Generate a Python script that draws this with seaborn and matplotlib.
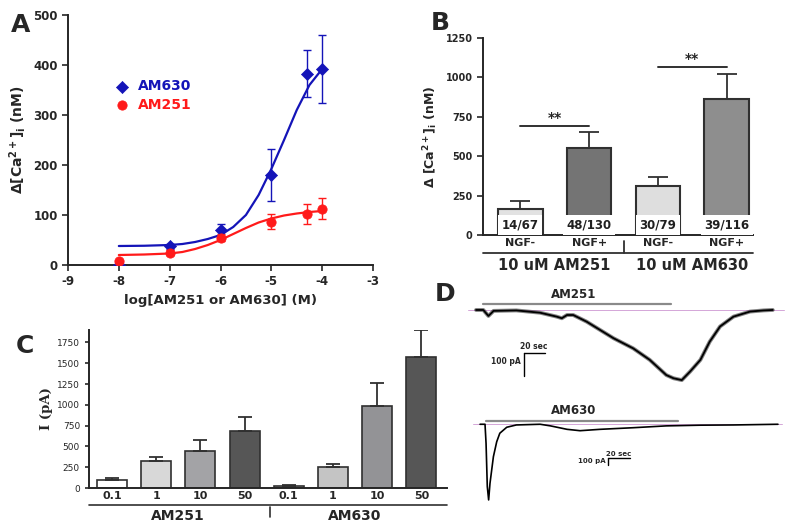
import numpy as np
import matplotlib
matplotlib.use("Agg")
import matplotlib.pyplot as plt
import seaborn as sns

sns.set_style("ticks")
plt.rcParams['font.family'] = ['DejaVu Sans']
plt.rcParams['font.weight'] = 'bold'
plt.rcParams['mathtext.fontset'] = 'dejavusans'
plt.rcParams['mathtext.default'] = 'bf'
plt.rcParams['axes.unicode_minus'] = False
plt.rcParams['axes.linewidth'] = 1.4
plt.rcParams['xtick.major.width'] = 1.2
plt.rcParams['ytick.major.width'] = 1.2

# ---- Panel A: dose response ----
log_conc = [-8, -7, -6, -5, -4.3, -4]
am630_mean = [0, 38, 70, 180, 383, 393]
am630_err = [0, 5, 13, 52, 47, 68]
am251_mean = [8, 25, 55, 87, 102, 113]
am251_err = [0, 5, 7, 15, 20, 21]
fit_x = [-8, -7.5, -7, -6.75, -6.5, -6.25, -6, -5.75, -5.5, -5.25, -5, -4.75, -4.5, -4.25, -4]
fit_630 = [38, 38.5, 40, 42, 46, 52, 60, 76, 100, 140, 192, 250, 310, 360, 392]
fit_251 = [20, 21, 23, 26, 32, 40, 50, 62, 74, 85, 93, 99, 103, 106, 108]

# ---- Panel B: NGF- vs NGF+ ----
b_groups = ["AM251 NGF-", "AM251 NGF+", "AM630 NGF-", "AM630 NGF+"]
b_ticklabels = ["NGF-", "NGF+", "NGF-", "NGF+"]
b_mean = [165, 550, 310, 865]
b_err = [50, 105, 60, 155]
b_counts = ["14/67", "48/130", "30/79", "39/116"]
b_colors = ['#e2e2e2', '#747474', '#dedede', '#8e8e8e']

# ---- Panel C: currents ----
c_groups = ["AM251 0.1", "AM251 1", "AM251 10", "AM251 50",
            "AM630 0.1", "AM630 1", "AM630 10", "AM630 50"]
c_doses = ["0.1", "1", "10", "50", "0.1", "1", "10", "50"]
c_mean = [96, 324, 444, 687, 24, 255, 991, 1570]
c_err = [28, 48, 132, 168, 12, 33, 272, 335]
c_colors = ['#ffffff', '#d8d8d8', '#a3a3a7', '#565656',
            '#b8b8b8', '#c4c4c4', '#939397', '#565656']

# ---- Panel D: current traces (sec, pA) ----
t_am251 = [0, 7, 12, 17, 39, 62, 78, 83, 88, 94, 107, 120, 133, 152, 168, 184,
           191, 199, 207, 217, 226, 236, 249, 265, 278, 287]
i_am251 = [0, 0, -26, -4, -2, -12, -29, -36, -22, -22, -51, -87, -123, -167, -217, -283,
           -297, -305, -268, -217, -138, -72, -29, -7, -2, 0]
t_am630 = [3.9, 8.7, 9.7, 10.9, 12.2, 13.5, 16.8, 20, 23, 29.7, 39, 62, 72, 88,
           100.6, 120, 152, 184, 217, 249, 292]
i_am630 = [0, 0, -83, -271, -329, -257, -141, -76, -39, -13, -3, 0, -7, -22,
           -28, -22, -15, -7, -4, -3, 0]
am630_offset = -497

W, H = 800, 529
fig = plt.figure(figsize=(8, 5.29), dpi=100)


def box(left, right, top, bottom):
    return [left / W, 1 - bottom / H, (right - left) / W, (bottom - top) / H]


blue = '#1414b8'
red = '#ff1a1a'

# Panel A
ax_a = fig.add_axes(box(68, 373, 15, 265))
sns.lineplot(x=fit_x, y=fit_630, color=blue, lw=1.6, ax=ax_a)
sns.lineplot(x=fit_x, y=fit_251, color=red, lw=1.6, ax=ax_a)
ax_a.errorbar(log_conc, am630_mean, yerr=am630_err, fmt='none', ecolor=blue,
              elinewidth=1, capsize=3, capthick=1)
ax_a.errorbar(log_conc, am251_mean, yerr=am251_err, fmt='none', ecolor=red,
              elinewidth=1, capsize=3, capthick=1)
sns.scatterplot(x=log_conc, y=am630_mean, marker='D', s=38, color=blue,
                edgecolor=blue, ax=ax_a, label='AM630', zorder=5)
sns.scatterplot(x=log_conc, y=am251_mean, marker='o', s=45, color=red,
                edgecolor=red, ax=ax_a, label='AM251', zorder=5)
ax_a.set_xlim(-9, -3)
ax_a.set_ylim(0, 500)
ax_a.set_xticks(range(-9, -2))
ax_a.set_yticks(range(0, 501, 100))
ax_a.tick_params(labelsize=8.5, length=4)
ax_a.set_xlabel("log[AM251 or AM630] (M)", fontsize=9.5, fontweight='bold')
ax_a.set_ylabel(r"$\Delta$[Ca$^{2+}$]$_i$ (nM)", fontsize=10, fontweight='bold')
leg = ax_a.legend(loc='upper left', bbox_to_anchor=(0.11, 0.77), frameon=False,
                  prop={'weight': 'bold', 'size': 10}, handletextpad=0.1,
                  labelspacing=0.3, borderpad=0)
for txt, col in zip(leg.get_texts(), [blue, red]):
    txt.set_color(col)
sns.despine(ax=ax_a)
fig.text(11 / W, 1 - 25 / H, "A", fontsize=18, fontweight='bold', ha='left', va='center')

# Panel B
ax_b = fig.add_axes(box(483, 753, 38, 235))
sns.barplot(x=b_groups, y=b_mean, hue=b_groups, palette=b_colors, legend=False,
            order=b_groups, width=0.65, edgecolor='#303030', linewidth=1.5,
            errorbar=None, ax=ax_b)
ax_b.errorbar(range(4), b_mean, yerr=[np.zeros(4), b_err], fmt='none',
              ecolor='#303030', elinewidth=1.3, capsize=7, capthick=1.3)
for i, lab in enumerate(b_counts):
    ax_b.text(i, 62, lab, ha='center', va='center', fontsize=8.5, fontweight='bold',
              color='#202020',
              bbox=dict(facecolor='white', edgecolor='none', pad=2.5))
ax_b.plot([0, 1], [692, 692], color='#303030', lw=1.4)
ax_b.text(0.5, 700, "**", ha='center', va='bottom', fontsize=10, fontweight='bold')
ax_b.plot([2, 3], [1065, 1065], color='#303030', lw=1.4)
ax_b.text(2.5, 1073, "**", ha='center', va='bottom', fontsize=10, fontweight='bold')
ax_b.set_xlim(-0.54, 3.38)
ax_b.set_ylim(0, 1250)
ax_b.set_yticks(range(0, 1251, 250))
ax_b.set_xticks(range(4))
ax_b.set_xticklabels(b_ticklabels, fontsize=8, fontweight='bold')
ax_b.tick_params(axis='x', length=0, pad=2)
ax_b.tick_params(axis='y', labelsize=7, length=4)
ax_b.set_xlabel("")
ax_b.set_ylabel(r"$\Delta$ [Ca$^{2+}$]$_i$ (nM)", fontsize=9, fontweight='bold')
ax_b.plot([0, 1], [-0.092, -0.092], transform=ax_b.transAxes, color='#303030',
          lw=1.3, clip_on=False)
ax_b.plot([1.5, 1.5], [-0.03, -0.09], transform=ax_b.get_xaxis_transform(),
          color='#303030', lw=1.3, clip_on=False)
ax_b.text(0.5, -0.155, "10 uM AM251", transform=ax_b.get_xaxis_transform(),
          ha='center', va='center', fontsize=10.5, fontweight='bold')
ax_b.text(2.5, -0.155, "10 uM AM630", transform=ax_b.get_xaxis_transform(),
          ha='center', va='center', fontsize=10.5, fontweight='bold')
sns.despine(ax=ax_b)
fig.text(431 / W, 1 - 23 / H, "B", fontsize=18, fontweight='bold', ha='left', va='center')

# Panel C
ax_c = fig.add_axes(box(89, 447, 330, 488))
sns.barplot(x=c_groups, y=c_mean, hue=c_groups, palette=c_colors, legend=False,
            order=c_groups, width=0.68, edgecolor='#303030', linewidth=1.2,
            errorbar=None, ax=ax_c)
ax_c.errorbar(range(8), c_mean, yerr=[np.zeros(8), c_err], fmt='none',
              ecolor='#303030', elinewidth=1.3, capsize=5, capthick=1.3)
ax_c.set_xlim(-0.52, 7.58)
ax_c.set_ylim(0, 1900)
ax_c.set_yticks(range(0, 1751, 250))
ax_c.set_xticks(range(8))
ax_c.set_xticklabels(c_doses, fontsize=8, fontweight='bold')
ax_c.tick_params(axis='x', length=0, pad=2)
ax_c.tick_params(axis='y', labelsize=6.5, length=3)
for t in ax_c.get_yticklabels():
    t.set_fontweight('normal')
ax_c.set_xlabel("")
ax_c.set_ylabel("I (pA)", fontsize=9.5, fontweight='bold', family='DejaVu Serif',
                labelpad=3)
ax_c.plot([0, 1], [-0.108, -0.108], transform=ax_c.transAxes, color='#303030',
          lw=1.2, clip_on=False)
ax_c.plot([3.57, 3.57], [-0.12, -0.185], transform=ax_c.get_xaxis_transform(),
          color='#303030', lw=1.2, clip_on=False)
ax_c.text(1.5, -0.18, "AM251", transform=ax_c.get_xaxis_transform(),
          ha='center', va='center', fontsize=10, fontweight='bold')
ax_c.text(5.5, -0.18, "AM630", transform=ax_c.get_xaxis_transform(),
          ha='center', va='center', fontsize=10, fontweight='bold')
sns.despine(ax=ax_c)
fig.text(16 / W, 1 - 346 / H, "C", fontsize=18, fontweight='bold', ha='left', va='center')

# Panel D
ax_d = fig.add_axes(box(460, 795, 275, 525))
ax_d.set_xlim(-15.5, 308.5)
ax_d.set_ylim(-935, 152)
ax_d.axis('off')
pink = '#d4a6d8'
ax_d.plot([-8, 298], [0, 0], color=pink, lw=0.7)
ax_d.plot([-3, 296], [am630_offset, am630_offset], color=pink, lw=0.7)
sns.lineplot(x=t_am251, y=i_am251, color='#333333', lw=2.8, alpha=0.6, ax=ax_d)
sns.lineplot(x=t_am251, y=i_am251, color='black', lw=1.3, ax=ax_d)
trace2 = [v + am630_offset for v in i_am630]
sns.lineplot(x=t_am630, y=trace2, color='black', lw=1.2, ax=ax_d)
# application bars
ax_d.plot([7, 189], [25, 25], color='#8a8a8a', lw=1.6)
ax_d.text(94, 40, "AM251", ha='center', va='bottom', fontsize=8.5, fontweight='bold')
ax_d.plot([10, 195], [am630_offset + 16, am630_offset + 16], color='#8a8a8a', lw=1.6)
ax_d.text(94, am630_offset + 31, "AM630", ha='center', va='bottom', fontsize=8.5,
          fontweight='bold')
# scale bars
ax_d.plot([46, 67], [-187, -187], color='black', lw=1)
ax_d.plot([46, 46], [-187, -287], color='black', lw=1)
ax_d.text(56, -180, "20 sec", ha='center', va='bottom', fontsize=5.5, fontweight='bold')
ax_d.text(43, -225, "100 pA", ha='right', va='center', fontsize=5.5, fontweight='bold')
ax_d.plot([128, 149], [-644, -644], color='black', lw=1)
ax_d.plot([128, 128], [-644, -674], color='black', lw=1)
ax_d.text(138, -638, "20 sec", ha='center', va='bottom', fontsize=5, fontweight='bold')
ax_d.text(125, -655, "100 pA", ha='right', va='center', fontsize=5, fontweight='bold')
fig.text(435 / W, 1 - 294 / H, "D", fontsize=18, fontweight='bold', ha='left', va='center')

fig.savefig("out.png", dpi=100)
